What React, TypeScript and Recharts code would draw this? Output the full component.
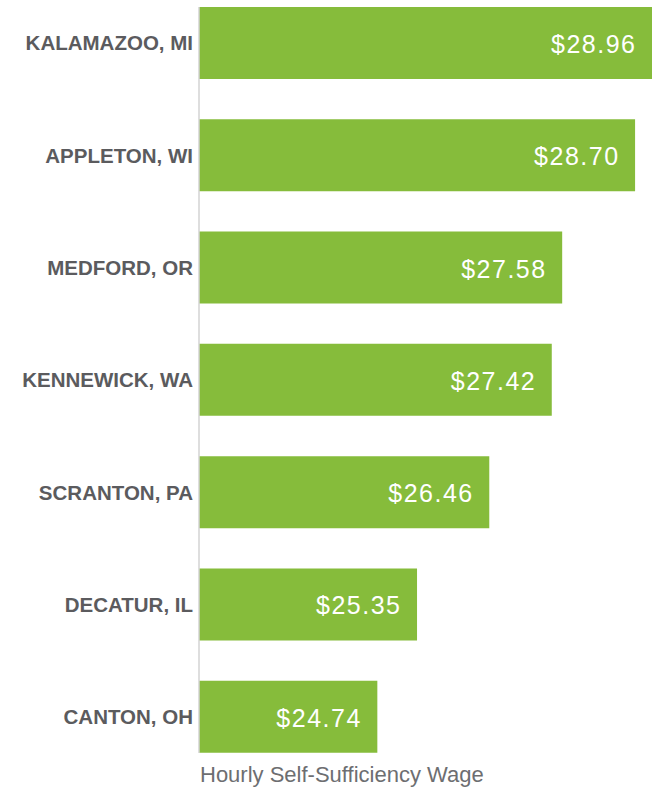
import React from 'react';
import { BarChart, Bar, XAxis, YAxis, LabelList } from 'recharts';

const cities = ['KALAMAZOO, MI', 'APPLETON, WI', 'MEDFORD, OR', 'KENNEWICK, WA', 'SCRANTON, PA', 'DECATUR, IL', 'CANTON, OH'];
const wages = [28.96, 28.7, 27.58, 27.42, 26.46, 25.35, 24.74];
const axisTitle = 'Hourly Self-Sufficiency Wage';

const data = cities.map((city, i) => ({ city, wage: wages[i] }));

const ValueLabel = (props: any) => {
  const { x, y, width, height, value } = props;
  return (
    <text
      x={x + width - 15.5}
      y={y + height / 2 + 1}
      textAnchor="end"
      dominantBaseline="central"
      fill="#ffffff"
      fontFamily="'Liberation Sans', Arial, sans-serif"
      fontSize={25}
      letterSpacing={1.5}
    >
      {'$' + Number(value).toFixed(2)}
    </text>
  );
};

const TitleLabel = (props: any) => {
  const { viewBox } = props;
  return (
    <text
      x={viewBox.x + 1}
      y={viewBox.y + 29}
      fill="#6d6e71"
      fontFamily="'Liberation Sans', Arial, sans-serif"
      fontSize={22}
    >
      {axisTitle}
    </text>
  );
};

export default function App() {
  return (
    <div style={{ position: 'absolute', left: 0, top: 0 }}>
      <BarChart
        width={652}
        height={789}
        data={data}
        layout="vertical"
        margin={{ top: 7, right: 0, bottom: 0, left: 0 }}
        barCategoryGap={20}
      >
        <XAxis
          type="number"
          domain={[22, 'dataMax']}
          tick={false}
          tickLine={false}
          axisLine={false}
          height={36}
          label={<TitleLabel />}
        />
        <YAxis
          type="category"
          dataKey="city"
          width={199}
          padding={{ top: -20, bottom: -20 }}
          tickLine={false}
          tickSize={0}
          tickMargin={6}
          axisLine={{ stroke: '#d3d3d3', strokeWidth: 1.5 }}
          tick={{ fill: '#5b5b5e', fontSize: 20.5, fontWeight: 'bold', fontFamily: "'Liberation Sans', Arial, sans-serif" }}
          interval={0}
        />
        <Bar dataKey="wage" fill="#86bc3b" isAnimationActive={false}>
          <LabelList dataKey="wage" content={<ValueLabel />} />
        </Bar>
      </BarChart>
    </div>
  );
}
